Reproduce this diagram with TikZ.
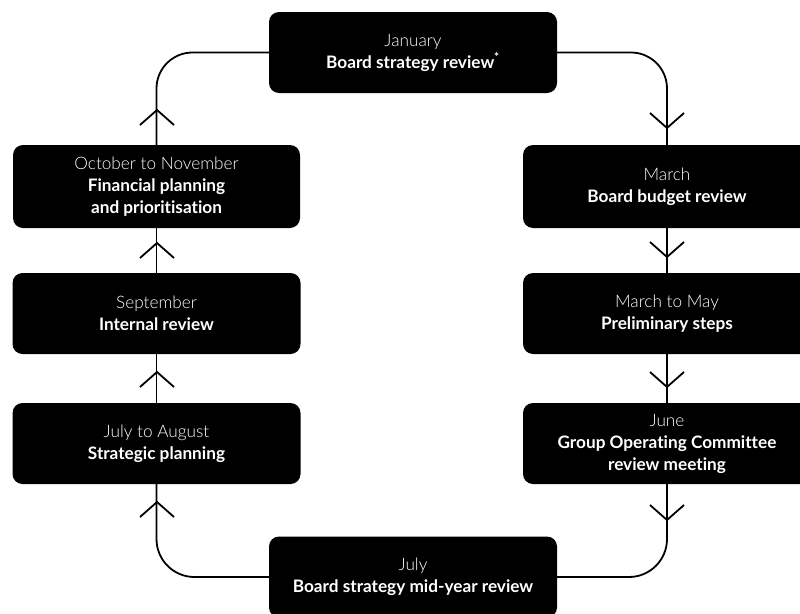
\documentclass[tikz,border=0pt]{standalone}
\usepackage{fontspec}
\setmainfont{Lato}[Ligatures=NoCommon]
\newfontfamily\monthfont{Lato Light}[Ligatures=NoCommon]
\begin{document}
\begin{tikzpicture}[x=1pt,y=-1pt,
  stage/.style={fill=black,text=white,rounded corners=10pt,minimum width=288pt,
    minimum height=81pt,inner sep=0pt,align=center,
    font=\fontsize{17.2}{22}\selectfont},
  link/.style={line width=1.8pt,black},
  chevup/.pic={\draw[line width=1.8pt] (-17,15) -- (0,0) -- (17,15);},
  chevdown/.pic={\draw[line width=1.8pt] (-17,-15) -- (0,0) -- (17,-15);}]
\useasboundingbox (0,0) rectangle (800,613);
\clip (0,0) rectangle (800,613);
\node[stage] (top) at (413,52.5) {{\monthfont January}\\\textbf{Board strategy review\textsuperscript{*}}};
\node[stage,minimum width=287pt,minimum height=83pt] (oct) at (156.5,186.5) {{\monthfont October to November}\\\textbf{Financial planning}\\\textbf{and prioritisation}};
\node[stage] (sep) at (156.5,313.5) {{\monthfont September}\\\textbf{Internal review}};
\node[stage] (jul) at (156.5,443.5) {{\monthfont July to August}\\\textbf{Strategic planning}};
\node[stage,minimum height=83pt] (mar) at (667,186.5) {{\monthfont March}\\\textbf{Board budget review}};
\node[stage] (may) at (667,313.5) {{\monthfont March to May}\\\textbf{Preliminary steps}};
\node[stage] (jun) at (667,443.5) {{\monthfont June}\\\textbf{Group Operating Committee}\\\textbf{review meeting}};
\node[stage] (bot) at (413,577) {{\monthfont July}\\\textbf{Board strategy mid-year review}};
\draw[link,rounded corners=36pt] (top.west) -| (oct.north);
\draw[link,rounded corners=36pt] (top.east) -| (mar.north);
\draw[link] (oct.south) -- (sep.north);
\draw[link] (sep.south) -- (jul.north);
\draw[link] (mar.south) -- (may.north);
\draw[link] (may.south) -- (jun.north);
\draw[link,rounded corners=38pt] (bot.west) -| (jul.south);
\draw[link,rounded corners=38pt] (bot.east) -| (jun.south);
\pic at (157,110) {chevup};
\pic at (157,243) {chevup};
\pic at (157,372) {chevup};
\pic at (157,502) {chevup};
\pic at (667,128) {chevdown};
\pic at (667,257) {chevdown};
\pic at (667,387) {chevdown};
\pic at (667,520) {chevdown};
\end{tikzpicture}
\end{document}
